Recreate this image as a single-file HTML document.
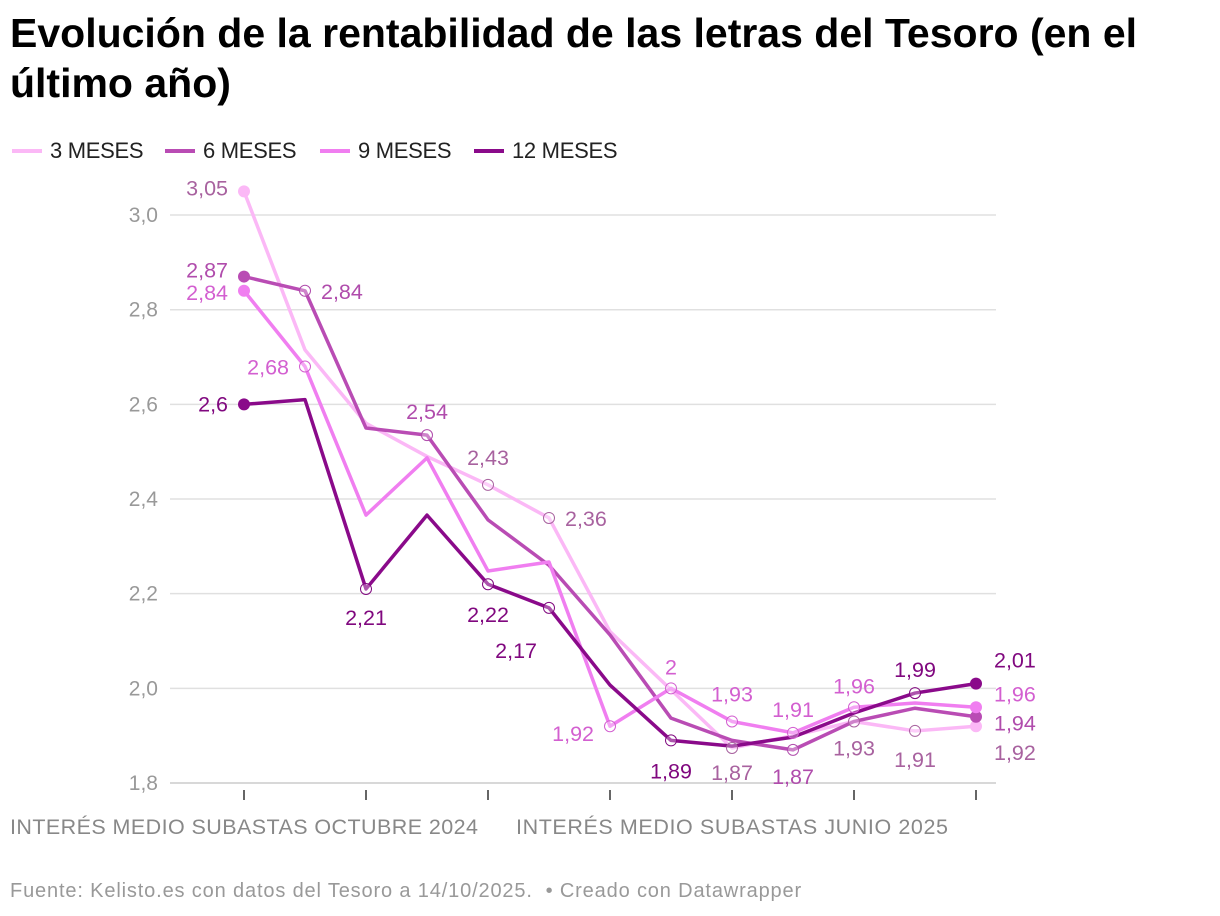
<!DOCTYPE html>
<html><head><meta charset="utf-8"><style>
body{margin:0;background:#fff;width:1220px;height:916px;overflow:hidden;font-family:"Liberation Sans",sans-serif}
h1{position:absolute;left:10px;top:8px;margin:0;font-size:41px;line-height:50px;font-weight:bold;color:#000;width:1170px;letter-spacing:0px}
.lg{position:absolute;top:138px;font-size:22px;color:#222;display:flex;align-items:center;letter-spacing:-0.3px}
.lg i{display:inline-block;width:30px;height:4px;margin-right:8px}
.ft{position:absolute;left:10px;top:880px;font-size:20px;color:#999;letter-spacing:0.85px}
</style></head><body>
<h1>Evolución de la rentabilidad de las letras del Tesoro (en el último año)</h1>
<div class="lg" style="left:12px"><i style="background:#fbb8f6"></i>3 MESES</div>
<div class="lg" style="left:165px"><i style="background:#b94cb4"></i>6 MESES</div>
<div class="lg" style="left:320px"><i style="background:#f07ef0"></i>9 MESES</div>
<div class="lg" style="left:474px"><i style="background:#8a0a8a"></i>12 MESES</div>
<svg id="c" width="1220" height="916" style="position:absolute;left:0;top:0"></svg>
<div class="ft">Fuente: Kelisto.es con datos del Tesoro a 14/10/2025. &nbsp;• Creado con Datawrapper</div>
<script>
const yTicks=[1.8,2.0,2.2,2.4,2.6,2.8,3.0];
const yTickLabels=["1,8","2,0","2,2","2,4","2,6","2,8","3,0"];
const s3=[3.05,2.715,2.56,2.49,2.43,2.36,2.12,1.997,1.874,1.90,1.93,1.91,1.92];
const s6=[2.87,2.84,2.55,2.535,2.356,2.26,2.113,1.937,1.89,1.87,1.93,1.958,1.94];
const s9=[2.84,2.68,2.366,2.487,2.248,2.267,1.92,2.0,1.93,1.906,1.96,1.969,1.96];
const s12=[2.6,2.61,2.21,2.366,2.22,2.17,2.007,1.89,1.878,1.897,1.948,1.99,2.01];
const xLabels=["INTERÉS MEDIO SUBASTAS OCTUBRE 2024","INTERÉS MEDIO SUBASTAS JUNIO 2025"];
const svg=document.getElementById('c');const NS='http://www.w3.org/2000/svg';
const X=i=>244+i*61, Y=v=>783-(v-1.8)*473.3;
function mk(t,a,p){const e=document.createElementNS(NS,t);for(const k in a)e.setAttribute(k,a[k]);(p||svg).appendChild(e);return e;}
yTicks.forEach((t,i)=>{
 if(i>0){const g=mk('line',{x1:170,x2:996,y1:Y(t),y2:Y(t),stroke:'#e0e0e0','stroke-width':1.5});
 
 }
 const tx=mk('text',{x:158,y:Y(t)+7,'text-anchor':'end','font-size':21,fill:'#999'});tx.textContent=yTickLabels[i];
 
 
});
const base=mk('line',{x1:170,x2:996,y1:783,y2:783,stroke:'#ccc','stroke-width':1.5});


for(let i=0;i<13;i+=2){const tk=mk('line',{x1:X(i),x2:X(i),y1:790,y2:800,stroke:'#333','stroke-width':1.5});
 
 }
[[10,'start'],[516,'start']].forEach((p,i)=>{const t=mk('text',{x:p[0],y:834,'font-size':21.5,fill:'#888',textLength:i==0?468:432});t.textContent=xLabels[i];
 
 });
const series=[
 {d:s3,c:'#fbb8f6',lc:'#a8629f',n:'3m',lab:[[0,-16,4,'end'],[4,0,-20,'middle'],[5,16,8,'start'],[8,0,32,'middle'],[10,0,34,'middle'],[11,0,36,'middle'],[12,18,34,'start']]},
 {d:s6,c:'#b94cb4',lc:'#b04cac',n:'6m',lab:[[0,-16,1,'end'],[1,16,8,'start'],[3,0,-16,'middle'],[9,0,34,'middle'],[12,18,14,'start']]},
 {d:s9,c:'#f07ef0',lc:'#d35fd0',n:'9m',lab:[[0,-16,9,'end'],[1,-16,8,'end'],[6,-16,15,'end'],[7,0,-14,'middle'],[8,0,-20,'middle'],[9,0,-16,'middle'],[10,0,-14,'middle'],[12,18,-6,'start']]},
 {d:s12,c:'#8a0a8a',lc:'#80087f',n:'12m',lab:[[0,-16,7,'end'],[2,0,36,'middle'],[4,0,38,'middle'],[5,-12,50,'end'],[7,0,38,'middle'],[11,0,-16,'middle'],[12,18,-16,'start']]}
];
series.forEach(s=>{
 const pl=mk('polyline',{points:s.d.map((v,i)=>X(i)+','+Y(v)).join(' '),fill:'none',stroke:s.c,'stroke-width':3.5,'stroke-linejoin':'round'});
 
 
});
series.forEach(s=>{
 s.lab.forEach(l=>{const i=l[0],v=s.d[i];
  const end=(i==0||i==12);
  const c=mk('circle',{cx:X(i),cy:Y(v),r:end?6:5.5,fill:end?s.c:'#fff','fill-opacity':end?1:0.3,stroke:end?'none':s.lc,'stroke-width':1});
  
  
  const t=mk('text',{x:X(i)+l[1],y:Y(v)+l[2],'text-anchor':l[3],'font-size':21.5,fill:s.lc});
  t.textContent=(Math.round(v*100)/100).toString().replace('.',',');
  
  
 });
});
</script>
</body></html>
